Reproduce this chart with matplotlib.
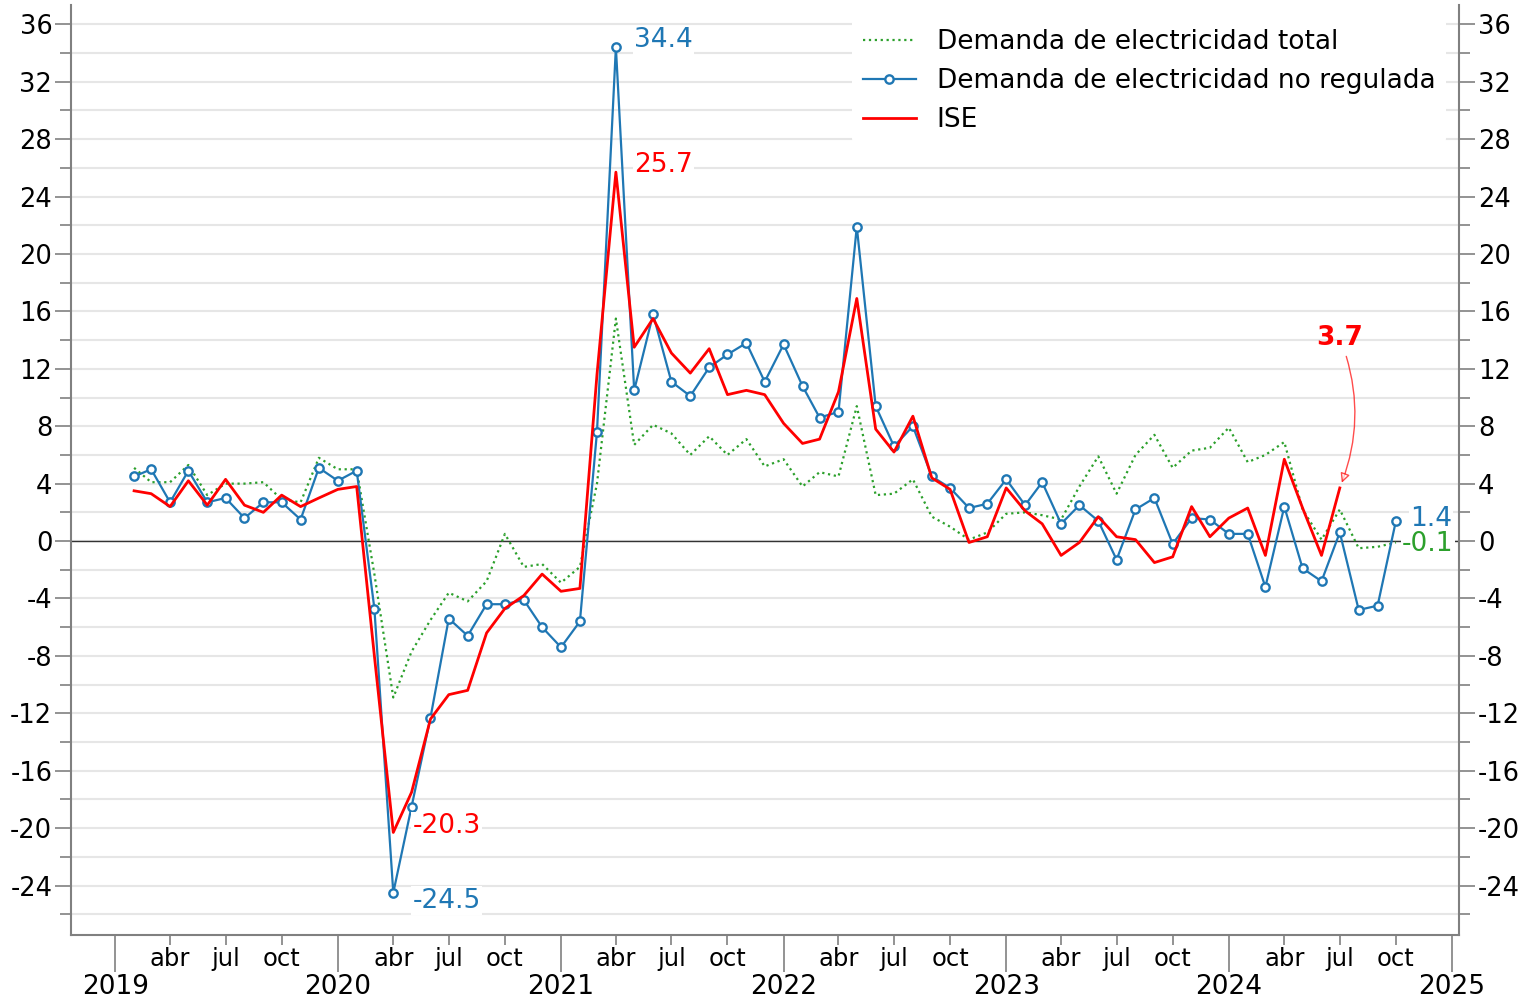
import pandas as pd
import matplotlib
matplotlib.use("Agg")
import matplotlib.pyplot as plt
import matplotlib.dates as mdates
from matplotlib.ticker import MultipleLocator, FuncFormatter

plt.rcParams['axes.unicode_minus'] = False

# variación anual (%), mensual desde feb-2019
fechas = pd.date_range("2019-02-01", periods=69, freq="MS")

demanda_total = [
    5.1, 4.1, 4.1, 5.3, 3.2, 4.0, 4.0, 4.1, 2.9, 2.7, 5.8,
    5.0, 5.0, -2.3, -10.9, -7.7, -5.5, -3.6, -4.2, -2.8, 0.5, -1.8, -1.6,
    -2.9, -1.8, 4.0, 15.5, 6.7, 8.1, 7.5, 6.0, 7.3, 6.0, 7.1, 5.2,
    5.7, 3.8, 4.8, 4.5, 9.4, 3.2, 3.3, 4.3, 1.7, 1.0, 0.1, 0.6,
    1.9, 2.0, 1.8, 1.5, 3.8, 5.9, 3.3, 6.0, 7.4, 5.1, 6.3, 6.5,
    7.9, 5.5, 6.0, 6.9, 2.2, 0.1, 2.2, -0.5, -0.4, -0.1,
]
demanda_no_regulada = [
    4.5, 5.0, 2.7, 4.9, 2.7, 3.0, 1.6, 2.7, 2.7, 1.5, 5.1,
    4.2, 4.9, -4.7, -24.5, -18.5, -12.3, -5.4, -6.6, -4.4, -4.4, -4.1, -6.0,
    -7.4, -5.6, 7.6, 34.4, 10.5, 15.8, 11.1, 10.1, 12.1, 13.0, 13.8, 11.1,
    13.7, 10.8, 8.6, 9.0, 21.9, 9.4, 6.6, 8.0, 4.5, 3.7, 2.3, 2.6,
    4.3, 2.5, 4.1, 1.2, 2.5, 1.4, -1.3, 2.2, 3.0, -0.2, 1.6, 1.5,
    0.5, 0.5, -3.2, 2.4, -1.9, -2.8, 0.6, -4.8, -4.5, 1.4,
]
ise = [
    3.5, 3.3, 2.4, 4.2, 2.5, 4.3, 2.5, 2.0, 3.2, 2.4, 3.0,
    3.6, 3.8, -8.0, -20.3, -17.5, -12.4, -10.7, -10.4, -6.4, -4.7, -3.8, -2.3,
    -3.5, -3.3, 11.6, 25.7, 13.5, 15.5, 13.1, 11.7, 13.4, 10.2, 10.5, 10.2,
    8.2, 6.8, 7.1, 10.4, 16.9, 7.8, 6.2, 8.7, 4.4, 3.6, -0.1, 0.3,
    3.7, 2.1, 1.2, -1.0, -0.1, 1.7, 0.3, 0.1, -1.5, -1.1, 2.4, 0.3,
    1.6, 2.3, -1.0, 5.7, 2.3, -1.0, 3.7,
]
meses = {4: "abr", 7: "jul", 10: "oct"}

fig, ax = plt.subplots(figsize=(15.18, 10.02), dpi=100)
fig.subplots_adjust(left=71 / 1518, right=1459 / 1518, bottom=1 - 935 / 1002, top=1 - 5 / 1002)

ax.plot(fechas, demanda_total, ':', color='tab:green', lw=1.6, label='Demanda de electricidad total')
ax.plot(fechas, demanda_no_regulada, '-o', color='tab:blue', lw=1.6, ms=6, mfc='white', mew=1.7,
        label='Demanda de electricidad no regulada')
fechas_ise = fechas[:len(ise)]
ax.plot(fechas_ise, ise, '-', color='red', lw=2, label='ISE')
ax.axhline(0, color='#333333', lw=1, zorder=1)

# etiquetas de valores
fs = 19
caja = dict(fc='white', ec='none', pad=1)
i_max = demanda_no_regulada.index(max(demanda_no_regulada))
i_min = demanda_no_regulada.index(min(demanda_no_regulada))
ax.annotate(f"{demanda_no_regulada[i_max]:.1f}", (fechas[i_max], demanda_no_regulada[i_max]),
            xytext=(18, 7), textcoords='offset pixels', color='tab:blue', fontsize=fs,
            ha='left', va='center', bbox=caja)
ax.annotate(f"{ise[i_max]:.1f}", (fechas[i_max], ise[i_max]),
            xytext=(18, 7), textcoords='offset pixels', color='red', fontsize=fs,
            ha='left', va='center', bbox=caja)
ax.annotate(f"{ise[i_min]:.1f}", (fechas[i_min], ise[i_min]),
            xytext=(19, 6), textcoords='offset pixels', color='red', fontsize=fs,
            ha='left', va='center', bbox=caja)
ax.annotate(f"{demanda_no_regulada[i_min]:.1f}", (fechas[i_min], demanda_no_regulada[i_min]),
            xytext=(19, -8), textcoords='offset pixels', color='tab:blue', fontsize=fs,
            ha='left', va='center', bbox=caja)
ax.annotate(f"{demanda_no_regulada[-1]:.1f}", (fechas[-1], demanda_no_regulada[-1]),
            xytext=(14, 2), textcoords='offset pixels', color='tab:blue', fontsize=fs,
            ha='left', va='center', bbox=caja)
ax.annotate(f"{demanda_total[-1]:.1f}", (fechas[-1], demanda_total[-1]),
            xytext=(6, -2), textcoords='offset pixels', color='tab:green', fontsize=fs,
            ha='left', va='center', bbox=caja)
ax.annotate(f"{ise[-1]:.1f}", (fechas_ise[-1], ise[-1]),
            xytext=(0, 150), textcoords='offset pixels', color='red', fontsize=fs,
            fontweight='bold', ha='center', va='center',
            arrowprops=dict(arrowstyle='-|>', connectionstyle='arc3,rad=-0.2',
                            fc='white', ec='red', alpha=0.7, lw=1, shrinkB=4, mutation_scale=14))

# ejes
ax.yaxis.set_major_locator(MultipleLocator(4))
ax.yaxis.set_minor_locator(MultipleLocator(2))
ax.yaxis.grid(True, which='both', color='#e6e6e6', lw=1.5, zorder=0)
ax.set_axisbelow(True)
ax.tick_params(axis='y', which='both', left=True, right=True, labelleft=True, labelright=True,
               colors='#808080', labelcolor='black', labelsize=18.5, pad=2)
ax.tick_params(axis='y', which='major', length=11.5, width=1.2)
ax.tick_params(axis='y', which='minor', length=8, width=1.2)

ax.xaxis.set_major_locator(mdates.YearLocator())
ax.xaxis.set_major_formatter(mdates.DateFormatter('%Y'))
ax.xaxis.set_minor_locator(mdates.MonthLocator(bymonth=[4, 7, 10]))
ax.xaxis.set_minor_formatter(FuncFormatter(lambda x, pos: meses[mdates.num2date(x).month]))
ax.tick_params(axis='x', which='major', length=26.5, width=1.2, colors='#808080',
               labelcolor='black', labelsize=19, pad=1.5)
ax.tick_params(axis='x', which='minor', length=7.2, width=1.2, colors='#808080',
               labelcolor='black', labelsize=17.5, pad=1.5)

ax.spines['top'].set_visible(False)
for lado in ['left', 'right', 'bottom']:
    ax.spines[lado].set_color('#808080')
    ax.spines[lado].set_linewidth(1.5)

leg = ax.legend(loc='upper right', fontsize=19, frameon=True, framealpha=1,
                facecolor='white', edgecolor='none')

fig.savefig('out.png', dpi=100)
